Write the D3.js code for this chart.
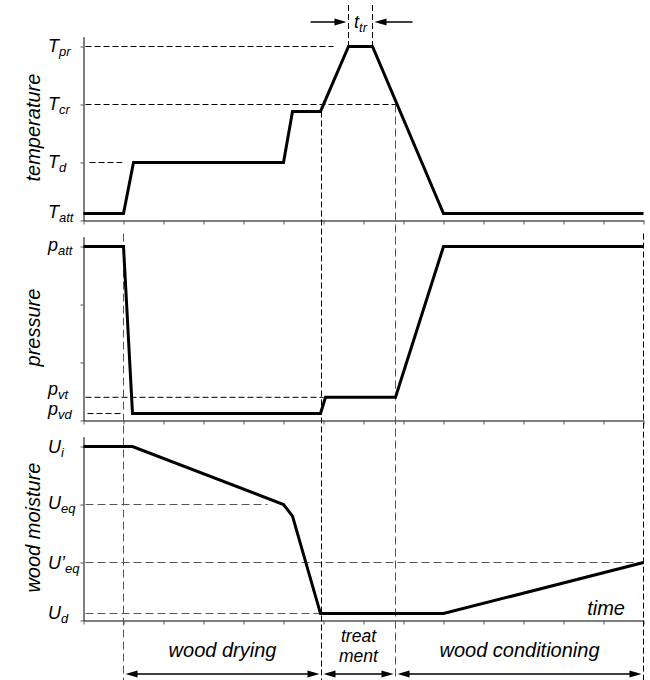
<!DOCTYPE html>
<html>
<head>
<meta charset="utf-8">
<script src="https://cdn.jsdelivr.net/npm/d3@7"></script>
<style>
  body { margin: 0; background: #fff; }
  text { font-family: "Liberation Sans", Arial, Helvetica, sans-serif; font-style: italic; fill: #000; }
</style>
</head>
<body>
<svg id="chart" width="650" height="680"></svg>
<script>
// ---- process schedule (time in arbitrary units, levels in arbitrary units) ----
const timeTicks = d3.range(0, 15);
const levelTicks = [0, 1, 2, 3];

// temperature
const tempTime  = [0, 1.0, 1.25, 5.0, 5.225, 5.925, 6.625, 7.225, 9.0, 14];
const tempValue = [0.12, 0.12, 1, 1, 1.88, 1.88, 3, 3, 0.12, 0.12];
const tempLevelMain = ["T", "T", "T", "T"];
const tempLevelSub  = ["pr", "cr", "d", "att"];
const tempLevelValue = [3, 2, 1, 0.12];

// pressure
const presTime  = [0, 1.0, 1.225, 5.925, 6.05, 7.8, 9.0, 14];
const presValue = [3, 3, 0.12, 0.12, 0.4, 0.4, 3, 3];
const presLevelMain = ["p", "p", "p"];
const presLevelSub  = ["att", "vt", "vd"];
const presLevelValue = [3, 0.4, 0.12];

// wood moisture
const moistTime  = [0, 1.225, 5.0, 5.225, 5.925, 9.0, 14];
const moistValue = [3, 3, 2, 1.8, 0.12, 0.12, 1];
const moistLevelMain = ["U", "U\u2019", "U", "U"];
const moistLevelSub  = ["i", "eq", "eq", "d"];
const moistLevelValue = [3, 1, 2, 0.12];

// phases
const phaseStart = [1.0, 5.95, 7.8];
const phaseEnd   = [5.95, 7.8, 14];
const phaseLabel = [["wood drying"], ["treat", "ment"], ["wood conditioning"]];

// treatment plateau
const treatStart = 6.625, treatEnd = 7.225;

// ---- layout ----
const svg = d3.select("#chart");
const x = d3.scaleLinear().domain([0, 14]).range([83.5, 643.5]);
const unit = 58, topLevel = 3.17;
const mkY = bottom => d3.scaleLinear().domain([0, topLevel]).range([bottom, bottom - topLevel * unit]);
const yT = mkY(220.5), yP = mkY(420.5), yU = mkY(620.5);

function axes(y) {
  const gx = svg.append("g").attr("transform", `translate(0,${y(0)})`)
    .call(d3.axisBottom(x).tickValues(timeTicks).tickSize(4).tickSizeOuter(0).tickFormat(""));
  const gy = svg.append("g").attr("transform", `translate(${x(0)},0)`)
    .call(d3.axisLeft(y).tickValues(levelTicks).tickSize(3).tickSizeOuter(0).tickFormat(""));
  [gx, gy].forEach(g => {
    g.select(".domain").attr("stroke", "#000").attr("stroke-width", 1);
    g.selectAll(".tick line").attr("stroke", "#555").attr("stroke-width", 1);
  });
}
axes(yT); axes(yP); axes(yU);

// dashed guides
function hGuide(y, v, x0, x1, color, dash) {
  svg.append("line").attr("x1", x(x0)).attr("x2", x(x1)).attr("y1", y(v)).attr("y2", y(v))
    .attr("stroke", color).attr("stroke-width", 1).attr("stroke-dasharray", dash);
}
function vGuide(t, y0, y1, color, dash) {
  svg.append("line").attr("x1", x(t)).attr("x2", x(t)).attr("y1", y0).attr("y2", y1)
    .attr("stroke", color).attr("stroke-width", 1).attr("stroke-dasharray", dash);
}
const dk = "#000", gr = "#555", d1 = "6,3", d2 = "8,4";
hGuide(yT, tempLevelValue[0], 0.05, 6.25, dk, d1);
hGuide(yT, tempLevelValue[1], 0.05, phaseStart[2], dk, d1);
hGuide(yT, tempLevelValue[2], 0.15, 0.97, dk, d1);
hGuide(yP, presLevelValue[1], 0.05, 6.0, dk, d1);
hGuide(yP, presLevelValue[2], 0.1, 1.0, dk, d1);
hGuide(yU, moistLevelValue[2], 0.05, 4.6, gr, d2);
hGuide(yU, moistLevelValue[1], 0.05, 14, gr, d2);
hGuide(yU, moistLevelValue[3], 0.05, 5.925, gr, d2);

vGuide(phaseStart[0], yP(topLevel) - 3, 680, gr, d2);
vGuide(phaseStart[1], yT(1.88), 680, dk, d1);
vGuide(phaseStart[2], yT(2), 680, gr, d2);
vGuide(phaseEnd[2], yP(topLevel) - 3, 680, dk, d1);
vGuide(treatStart, 5, yT(3), dk, d1);
vGuide(treatEnd, 5, yT(3), dk, d1);

// curves
function curve(ts, vs, y) {
  const line = d3.line().x(d => x(d[0])).y(d => y(d[1]));
  svg.append("path").datum(d3.zip(ts, vs)).attr("d", line)
    .attr("fill", "none").attr("stroke", "#000").attr("stroke-width", 3)
    .attr("stroke-linejoin", "miter");
}
curve(tempTime, tempValue, yT);
curve(presTime, presValue, yP);
curve(moistTime, moistValue, yU);

// level labels
function levelLabels(mains, subs, vals, y, nudge, size) {
  mains.forEach((m, i) => {
    const t = svg.append("text").attr("x", 48).attr("y", y(vals[i]) + 5 + (nudge[i] || 0))
      .attr("font-size", size);
    t.append("tspan").text(m);
    t.append("tspan").attr("font-size", 13).attr("dy", 4).text(subs[i]);
  });
}
levelLabels(tempLevelMain, tempLevelSub, tempLevelValue, yT, [0, 0, 0, -1], 18);
levelLabels(presLevelMain, presLevelSub, presLevelValue, yP, [-1, -7, -4], 18);
levelLabels(moistLevelMain, moistLevelSub, moistLevelValue, yU, [1, 1, -1, 0], 18);

// axis titles
function title(txt, y) {
  const cy = (y(0) + y(topLevel)) / 2 - 1;
  svg.append("text").attr("transform", `translate(40,${cy}) rotate(-90)`)
    .attr("text-anchor", "middle").attr("font-size", 20).text(txt);
}
title("temperature", yT);
title("pressure", yP);
title("wood moisture", yU);

svg.append("text").attr("x", 625).attr("y", 615).attr("text-anchor", "end")
  .attr("font-size", 20).text("time");

// arrows
function arrowHead(tipX, y, dir) {
  const L = 12, H = 3.5;
  svg.append("path")
    .attr("d", `M${tipX},${y}L${tipX - dir * L},${y - H}L${tipX - dir * L},${y + H}Z`)
    .attr("fill", "#000");
}
function arrowLine(x0, x1, y) {
  svg.append("line").attr("x1", x0).attr("x2", x1).attr("y1", y).attr("y2", y)
    .attr("stroke", "#000").attr("stroke-width", 1.5);
}

// phase spans
const arrowY = 674;
phaseLabel.forEach((lines, i) => {
  const a = x(phaseStart[i]) + 2, b = x(phaseEnd[i]) - 2;
  arrowLine(a + 4, b - 4, arrowY);
  arrowHead(a, arrowY, -1);
  arrowHead(b, arrowY, 1);
  const cx = (x(phaseStart[i]) + x(phaseEnd[i])) / 2;
  if (lines.length === 1) {
    svg.append("text").attr("text-anchor", "middle").attr("font-size", 20)
      .attr("x", cx).attr("y", 657).text(lines[0]);
  } else {
    // two-line label stacked inside the narrow treatment span
    lines.forEach((ln, k) => {
      svg.append("text").attr("text-anchor", "middle").attr("font-size", 17.5)
        .attr("x", cx).attr("y", 641.5 + k * 20.5).text(ln);
    });
  }
});

// treatment duration marker
const tY = 22;
arrowLine(x(treatStart) - 38, x(treatStart) - 6, tY);
arrowHead(x(treatStart) - 2, tY, 1);
arrowLine(x(treatEnd) + 6, x(treatEnd) + 40, tY);
arrowHead(x(treatEnd) + 2, tY, -1);
const tt = svg.append("text").attr("x", (x(treatStart) + x(treatEnd)) / 2).attr("y", 28)
  .attr("text-anchor", "middle").attr("font-size", 18);
tt.append("tspan").text("t");
tt.append("tspan").attr("font-size", 13).attr("dy", 4).text("tr");
</script>
</body>
</html>
